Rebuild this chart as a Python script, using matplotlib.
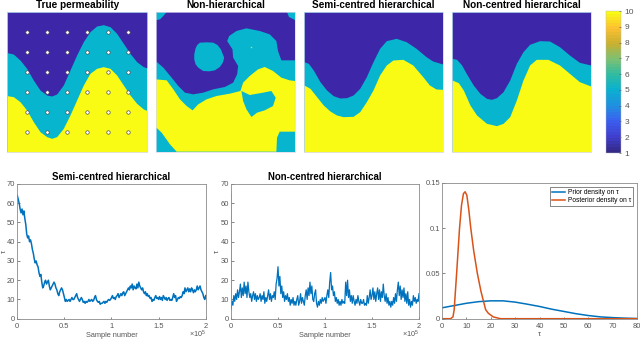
from matplotlib.patches import Polygon
from matplotlib.colors import LinearSegmentedColormap, Normalize
from matplotlib.cm import ScalarMappable
import matplotlib.pyplot as plt
import numpy as np

W, H = 640, 339

PURPLE = "#3E26A8"
TEAL = "#07B5CF"
YELLOW = "#F9FB15"
GREY = "#555555"

# field panels: positions read on a 0-420 square, y pointing down
true_x = [0, 18, 38, 58, 78, 98, 118, 133, 148, 168, 188, 208, 228, 248, 268, 288, 308, 328, 348, 368, 388, 408, 420]
true_top = [122, 126, 144, 169, 204, 234, 249, 252, 246, 219, 174, 129, 89, 59, 42, 38, 44, 64, 94, 124, 149, 164, 168]
true_low = [251, 254, 269, 294, 329, 359, 374, 379, 374, 349, 309, 264, 219, 184, 169, 164, 169, 189, 219, 249, 274, 291, 296]
obs_x = [59, 119, 179, 240, 301, 361]
obs_y = [59, 119, 179, 239, 299, 359]

semi_top_x = [0, 13, 28, 48, 68, 88, 108, 128, 148, 168, 188, 208, 228, 248, 278, 308, 338, 368, 388, 418]
semi_top = [149, 154, 174, 209, 234, 251, 258, 257, 249, 229, 194, 149, 109, 86, 79, 89, 109, 134, 147, 156]
semi_low_x = [0, 18, 38, 58, 78, 98, 118, 148, 168, 188, 208, 228, 248, 268, 298, 328, 358, 378, 398, 418]
semi_low = [219, 229, 254, 279, 297, 309, 314, 313, 299, 269, 234, 189, 159, 144, 142, 159, 194, 219, 231, 232]

nc_top_x = [0, 14, 29, 44, 64, 84, 104, 119, 134, 154, 174, 194, 214, 234, 264, 294, 324, 354, 384, 418]
nc_top = [139, 142, 159, 186, 219, 244, 259, 262, 257, 239, 204, 154, 119, 97, 86, 87, 104, 129, 151, 159]
nc_low_x = [0, 19, 34, 54, 74, 104, 134, 154, 174, 194, 214, 234, 254, 289, 324, 354, 384, 418]
nc_low = [204, 212, 234, 279, 309, 334, 341, 334, 314, 264, 204, 159, 142, 142, 159, 184, 209, 222]

nh_purple_x = [33, 395, 401, 419, 419, 378, 368, 363, 343, 313, 273, 243, 221, 215, 231, 233, 248, 245, 233, 208, 173, 143, 113, 88, 68, 48, 23, 0, 0, 13, 23]
nh_purple_y = [0, 0, 15, 24, 145, 145, 117, 87, 67, 57, 49, 57, 72, 87, 112, 137, 162, 187, 212, 225, 232, 242, 247, 242, 222, 197, 167, 147, 25, 22, 12]
nh_blob1_x = [133, 153, 173, 186, 196, 206, 202, 193, 178, 161, 143, 128, 120, 116, 116, 120, 125]
nh_blob1_y = [92, 91, 92, 99, 112, 137, 152, 165, 175, 178, 177, 167, 157, 142, 127, 109, 99]
nh_yellow_x = [0, 33, 53, 73, 93, 111, 128, 153, 183, 223, 255, 263, 283, 308, 328, 353, 378, 403, 419, 419, 373, 365, 363, 63, 43, 18, 0]
nh_yellow_y = [202, 205, 232, 262, 282, 295, 277, 262, 252, 245, 237, 212, 192, 172, 165, 177, 197, 205, 207, 359, 359, 377, 419, 419, 397, 362, 345]
nh_blob2_x = [258, 283, 323, 348, 361, 353, 328, 305, 288, 273, 263]
nh_blob2_y = [237, 249, 242, 237, 257, 282, 295, 302, 315, 292, 267]
nh_speck_x = [288]
nh_speck_y = [105]

# colourbar
cbar_colors = ["#352A87", "#4040D0", "#3B60F0", "#2090E0", "#0AB0D0", "#30BCA0", "#80C070", "#C9B030", "#FBC030", "#F9FB15"]
cbar_ticks = [1, 2, 3, 4, 5, 6, 7, 8, 9, 10]

# chains, one value every 0.01e5 samples
semi_chain = [
    64, 62, 60, 57, 55, 57, 54, 56, 52, 49,
    44, 42, 43, 40, 41, 39, 36, 34, 31, 29,
    30, 28, 27, 24, 22, 23, 19, 16, 17, 19,
    20, 18, 19, 20, 17, 15, 16, 17, 18, 19,
    18, 16, 15, 13, 12, 14, 15, 16, 15, 13,
    11, 9, 10, 9, 9.5, 10, 9, 10, 11, 10,
    10, 11, 12, 13, 11, 10, 9, 10, 11, 10,
    8.5, 9, 8, 9, 8.5, 9, 10, 9, 9.5, 10,
    9, 9.5, 11, 12, 10, 9, 8.5, 9, 7.5, 8,
    8, 8.5, 9, 8, 9, 8.5, 9.5, 10, 9.5, 10,
    11, 12, 10.5, 11, 10, 11.5, 12, 13, 11, 12,
    13, 12, 13.5, 14, 12, 13, 14, 15, 16, 15,
    17, 16, 18, 15, 17, 16, 15.5, 18, 16, 19,
    17, 16, 15, 16, 14, 13, 14, 12, 13, 11.5,
    12, 10.5, 11, 9, 10, 9.5, 11, 12, 10.5, 11,
    10, 11.5, 10, 11, 9.5, 12, 11, 10, 11, 9.5,
    10.5, 11, 9.5, 10, 9.5, 11, 13, 11, 12, 9,
    10, 11, 10.5, 11.5, 11, 12, 14, 13, 16, 14,
    15, 16, 14, 15.5, 14, 16, 15, 13.5, 15, 14,
    15, 17, 15, 16, 17, 15, 14, 13, 11, 10,
    12,
]
nc_chain = [
    5, 9, 7, 12, 9, 13, 10, 15, 11, 14,
    18, 11, 16, 12, 19, 13, 17, 11, 19, 14,
    11, 13, 9, 12, 14, 10, 13, 9, 12, 10,
    11, 13, 9, 12, 10, 14, 8, 11, 9, 12,
    15, 10, 13, 9, 12, 11, 14, 10, 18, 21,
    27, 17, 22, 13, 17, 11, 14, 9, 12, 10,
    13, 9, 11, 7, 10, 8, 11, 7, 9, 7,
    10, 12, 7, 9, 13, 8, 11, 9, 7, 12,
    15, 10, 16, 12, 19, 13, 17, 10, 9, 13,
    15, 8, 6, 9, 7, 10, 8, 11, 9, 10,
    11, 8, 12, 15, 11, 19, 24, 15, 17, 12,
    14, 9, 11, 8, 10, 7, 9, 7, 10, 8,
    9, 8, 19, 12, 20, 11, 15, 9, 12, 8,
    12, 9, 7, 10, 8, 12, 9, 7, 10, 8,
    8, 10, 7, 8, 7, 12, 8, 11, 15, 10,
    12, 16, 10, 14, 9, 13, 16, 10, 15, 9,
    14, 11, 18, 12, 9, 13, 8, 11, 7, 9,
    6, 9, 7, 11, 8, 13, 9, 15, 19, 12,
    17, 10, 15, 11, 16, 9, 13, 8, 14, 7,
    10, 6, 9, 7, 12, 9, 11, 8, 10, 9,
    13,
]
nc_burnin = [65, 5]

# densities on tau
prior_x = [0, 5, 10, 15, 20, 25, 30, 35, 40, 45, 50, 55, 60, 65, 70, 75, 80]
prior_y = [0.012, 0.0145, 0.017, 0.0188, 0.0197, 0.0197, 0.0183, 0.016, 0.0135, 0.0105, 0.008, 0.0055, 0.0035, 0.002, 0.0012, 0.0006, 0.0002]
post_x = [0, 3.5, 4.5, 5, 5.5, 6, 6.6, 7.2, 8, 8.8, 9.5, 10.2, 11, 11.8, 13, 14.5, 16, 17.9, 19, 21, 24, 80]
post_y = [0, 0, 0.002, 0.01, 0.03, 0.05, 0.075, 0.1, 0.125, 0.138, 0.14, 0.136, 0.12, 0.1, 0.075, 0.05, 0.03, 0.01, 0.006, 0.002, 0, 0]

plt.rcParams["font.family"] = ["Liberation Sans", "DejaVu Sans"]
plt.rcParams["mathtext.fontset"] = "custom"
plt.rcParams["mathtext.rm"] = "Liberation Sans"
plt.rcParams["mathtext.it"] = "Liberation Sans:italic"


def px_axes(fig, x0, x1, y0, y1):
    """Axes from pixel edges, y measured from the top of the image."""
    return fig.add_axes([x0 / W, 1 - y1 / H, (x1 - x0) / W, (y1 - y0) / H])


def field_axes(fig, x0, x1, title):
    ax = px_axes(fig, x0, x1, 12, 152)
    ax.set_xlim(0, 420)
    ax.set_ylim(420, 0)
    ax.set_xticks([])
    ax.set_yticks([])
    ax.set_title(title, fontsize=7.2, fontweight="bold", pad=3)
    for s in ax.spines.values():
        s.set_color("#d8d8ee")
        s.set_linewidth(0.5)
    return ax


def layered_field(ax, top_x, top, low_x, low):
    ax.set_facecolor(TEAL)
    ax.fill_between(top_x, 0, top, color=PURPLE, lw=0)
    ax.fill_between(low_x, low, 420, color=YELLOW, lw=0)


def style_line_axes(ax):
    ax.tick_params(direction="in", length=1.8, width=0.5, labelsize=5.4, colors=GREY, pad=1.5)
    ax.tick_params(axis="x", pad=3)
    for s in ax.spines.values():
        s.set_color("#8a8a8a")
        s.set_linewidth(0.6)


def chain_axes(fig, x0, x1, title):
    ax = px_axes(fig, x0, x1, 184, 318.7)
    ax.set_xlim(0, 2)
    ax.set_ylim(0, 70)
    ax.set_xticks([0, 0.5, 1, 1.5, 2], ["0", "0.5", "1", "1.5", "2"])
    ax.set_yticks(range(0, 71, 10))
    style_line_axes(ax)
    ax.set_title(title, fontsize=6.9, fontweight="bold", pad=3)
    ax.set_xlabel("Sample number", fontsize=5.3, color=GREY, labelpad=1.5)
    ax.set_ylabel("τ", fontsize=5.5, color=GREY)
    ax.yaxis.set_label_coords(-0.052, 0.5)
    ax.text(1, -0.118, r"$\times 10^5$", transform=ax.transAxes, fontsize=5.2, color=GREY, ha="right", va="center")
    return ax


fig = plt.figure(figsize=(W / 100, H / 100), dpi=100)

# True permeability
ax = field_axes(fig, 7.3, 147.3, "True permeability")
layered_field(ax, true_x, true_top, true_x, true_low)
gx, gy = np.meshgrid(obs_x, obs_y)
ax.plot(gx.ravel(), gy.ravel(), "o", ms=2.5, mfc="white", mec="#444444", mew=0.45)

# Non-hierarchical
ax = field_axes(fig, 155.7, 295.3, "Non-hierarchical")
ax.set_facecolor(TEAL)
ax.add_patch(Polygon(np.column_stack([nh_purple_x, nh_purple_y]), fc=PURPLE, lw=0))
ax.add_patch(Polygon(np.column_stack([nh_blob1_x, nh_blob1_y]), fc=TEAL, lw=0))
ax.add_patch(Polygon(np.column_stack([nh_yellow_x, nh_yellow_y]), fc=YELLOW, lw=0))
ax.add_patch(Polygon(np.column_stack([nh_blob2_x, nh_blob2_y]), fc=TEAL, lw=0))
ax.plot(nh_speck_x, nh_speck_y, "s", ms=1, color="#B8E070", mew=0)

# Hierarchical reconstructions
ax = field_axes(fig, 304, 443.3, "Semi-centred hierarchical")
layered_field(ax, semi_top_x, semi_top, semi_low_x, semi_low)
ax = field_axes(fig, 452, 591.3, "Non-centred hierarchical")
layered_field(ax, nc_top_x, nc_top, nc_low_x, nc_low)

# Colourbar
cax = px_axes(fig, 606, 621, 11, 153)
cmap = LinearSegmentedColormap.from_list("parula_like", cbar_colors, N=48)
cb = fig.colorbar(ScalarMappable(Normalize(1, 10), cmap), cax=cax, ticks=cbar_ticks)
cb.outline.set_linewidth(0.3)
cb.outline.set_edgecolor("#bbbbbb")
cax.tick_params(direction="in", length=1.5, width=0.5, labelsize=6, colors=GREY, pad=2.5)

# Trace plots
ax = chain_axes(fig, 17.3, 205.7, "Semi-centred hierarchical")
ax.plot(np.arange(len(semi_chain)) * 0.01, semi_chain, color="#0072BD", lw=1.1)

ax = chain_axes(fig, 231, 419, "Non-centred hierarchical")
ax.plot([0, 0.002], nc_burnin, color="#6fb3e0", lw=0.8)
ax.plot(np.arange(len(nc_chain)) * 0.01, nc_chain, color="#0072BD", lw=0.9)

# Densities
ax = px_axes(fig, 442, 637, 182.7, 318.7)
ax.plot(prior_x, prior_y, color="#0072BD", lw=1.1, label="Prior density on τ")
ax.plot(post_x, post_y, color="#D95319", lw=1.1, label="Posterior density on τ")
ax.set_xlim(0, 80)
ax.set_ylim(0, 0.15)
ax.set_xticks(range(0, 81, 10))
ax.set_yticks([0, 0.05, 0.1, 0.15], ["0", "0.05", "0.1", "0.15"])
style_line_axes(ax)
ax.set_xlabel("τ", fontsize=5.5, color=GREY, labelpad=1)
ax.legend(loc="upper right", bbox_to_anchor=(0.98, 0.968), fontsize=4.8, frameon=True, fancybox=False,
          edgecolor="#555555", framealpha=1, borderpad=0.3, labelspacing=0.15,
          handlelength=1.9, handletextpad=0.5, borderaxespad=0).get_frame().set_linewidth(0.5)

fig.savefig("out.png", dpi=100)
